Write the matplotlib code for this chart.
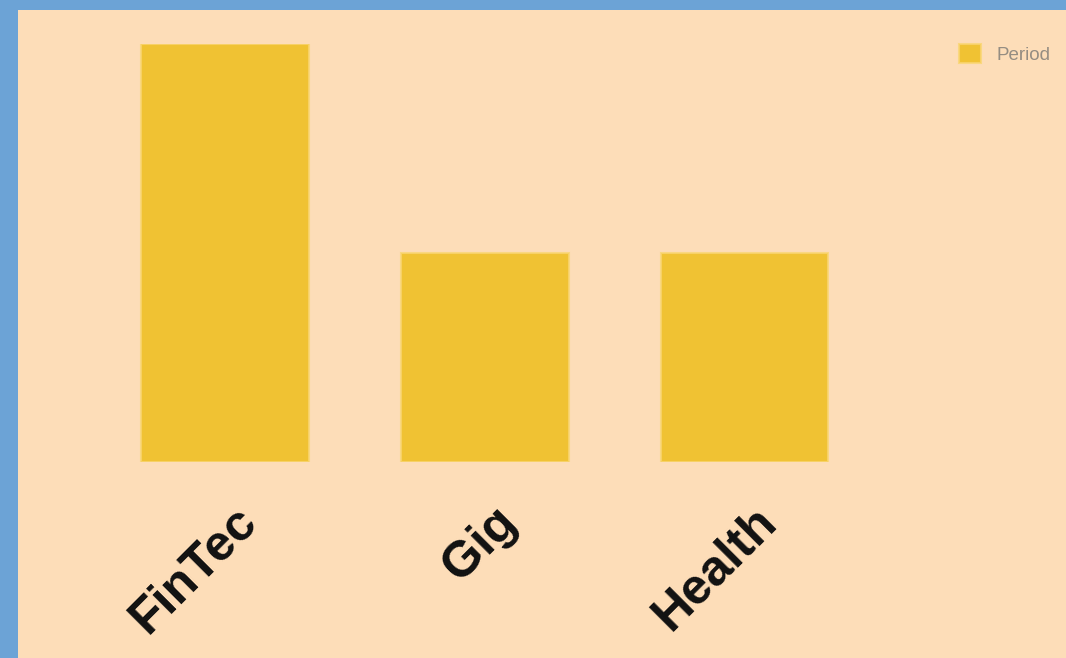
import matplotlib.pyplot as plt
import matplotlib.transforms as mtransforms
from matplotlib.patches import Rectangle

# data
categories = ['FinTec', 'Gig', 'Health']
values = [2, 1, 1]
series_name = 'Period'

bar_color = '#F0C233'
edge_color = (0.98, 0.84, 0.45, 0.8)
bg_color = '#FDDDB8'
border_color = '#6CA3D6'

W, H = 1066, 658
fig = plt.figure(figsize=(W / 100, H / 100), dpi=100)
fig.patch.set_facecolor(border_color)

# peach panel inside blue border (left 18px, top 10px)
fig.patches.append(Rectangle((18 / W, 0), 1 - 18 / W, 1 - 10 / H,
                             transform=fig.transFigure, facecolor=bg_color,
                             edgecolor='none', zorder=-5))

# axes placed in pixel terms: zero line at y=462, top of tallest bar at y=44
left_px, right_px = 95, 1050
ax = fig.add_axes([left_px / W, 1 - 462 / H, (right_px - left_px) / W, (462 - 44) / H])
ax.set_facecolor('none')

x = list(range(len(categories)))
ax.bar(x, values, width=0.645, color=bar_color, edgecolor=edge_color,
       linewidth=1.5, label=series_name)

spacing = 259.75
center0 = 225
ax.set_xlim((left_px - center0) / spacing, (right_px - center0) / spacing)
ax.set_ylim(0, max(values))

for s in ax.spines.values():
    s.set_visible(False)
ax.tick_params(left=False, labelleft=False, bottom=False)
ax.set_yticks([])
ax.set_xticks(x)
ax.set_xticklabels(categories, rotation=45, ha='right', va='center',
                   rotation_mode='anchor', fontsize=36, fontweight='bold',
                   family='Liberation Sans', color='#111111')
offset = mtransforms.ScaledTranslation(25 / 100, -43 / 100, fig.dpi_scale_trans)
for lbl in ax.get_xticklabels():
    lbl.set_transform(lbl.get_transform() + offset)

leg = fig.legend(loc='upper right', bbox_to_anchor=(1050 / W, 1 - 44 / H),
                 frameon=False, fontsize=13.5, handlelength=1.15, handleheight=1.15,
                 handletextpad=0.8, borderpad=0, borderaxespad=0,
                 labelcolor='#958d82')
for t in leg.get_texts():
    t.set_family('Liberation Sans')

fig.savefig('out.png', dpi=100, facecolor=fig.get_facecolor())
